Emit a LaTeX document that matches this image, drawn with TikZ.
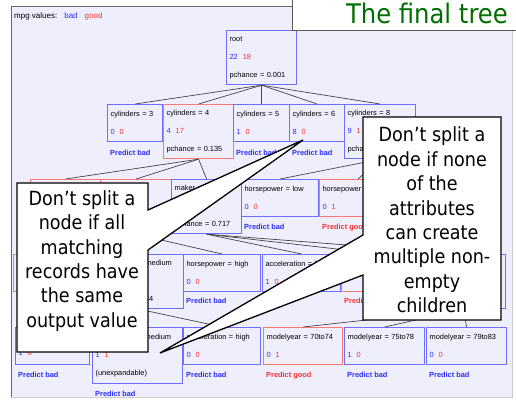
\documentclass[tikz,border=0pt]{standalone}
\usepackage{fontspec}
\setmainfont{Liberation Sans}
\newfontfamily\calloutfont{DejaVu Sans Condensed}
\usetikzlibrary{positioning}

\definecolor{panel}{RGB}{238,238,253}
\definecolor{boxblue}{RGB}{110,110,255}
\definecolor{boxred}{RGB}{255,120,120}
\definecolor{badc}{RGB}{45,45,255}
\definecolor{goodc}{RGB}{255,45,45}
\definecolor{titlegreen}{RGB}{0,110,0}
\definecolor{linkgray}{RGB}{70,70,70}

\newcommand{\cnt}[2]{\textcolor{badc}{#1}\hspace{5pt}\textcolor{goodc}{#2}}
\newcommand{\treefont}{\fontsize{7.4}{18}\selectfont}

\tikzset{
  tbox/.style={draw, line width=1.2pt, fill=panel, font=\treefont, align=left,
    anchor=north west, inner xsep=3pt, inner ysep=0pt, minimum height=37pt,
    text width=#1},
  badbox/.style={tbox=#1, draw=boxblue},
  goodbox/.style={tbox=#1, draw=boxred},
  splitbox/.style={minimum height=54pt},
  pred/.style={font=\treefont\bfseries, anchor=west, inner sep=0pt},
  link/.style={draw=linkgray, line width=0.7pt},
  callout/.style={draw=black, fill=white, line width=1.3pt, line join=miter},
  callouttext/.style={font=\calloutfont\fontsize{19.5}{24.4}\selectfont, align=center, inner sep=0pt}
}

\begin{document}
\begin{tikzpicture}[x=1pt, y=-1pt]
    \useasboundingbox (0,0) rectangle (516,399);
    % panel of the applet
    \fill[panel] (11,6) rectangle (512,397);
    \draw[gray!80!black, line width=1pt] (11,397) -- (11,6) -- (512,6);
    \draw[gray!40, line width=0.8pt] (512,6) -- (512,397) -- (11,397);
    \node[anchor=west, inner sep=0pt, font=\fontsize{8}{9}\selectfont] (legend) at (14,16)
        {mpg values:\hspace{7pt}\textcolor{badc}{bad}\hspace{7pt}\textcolor{goodc}{good}};

    % root and first split
    \node[badbox=64pt, splitbox] (root) at (226,30) {root\\ \cnt{22}{18}\\ pchance = 0.001};
    \node[badbox=49pt] (c3) at (107,104) {cylinders = 3\\ \cnt{0}{0}};
    \node[goodbox=64pt, splitbox] (c4) at (163,104) {cylinders = 4\\ \cnt{4}{17}\\ pchance = 0.135};
    \node[badbox=50pt] (c5) at (233,104) {cylinders = 5\\ \cnt{1}{0}};
    \node[badbox=49pt] (c6) at (289,104) {cylinders = 6\\ \cnt{8}{0}};
    \node[badbox=65pt, splitbox] (c8) at (344,104) {cylinders = 8\\ \cnt{9}{1}\\ pchance};
    \node[pred, text=badc] (pc3) at ([xshift=3pt, yshift=-11pt]c3.south west) {Predict bad};
    \node[pred, text=badc] (pc5) at ([xshift=3pt, yshift=-11pt]c5.south west) {Predict bad};
    \node[pred, text=badc] (pc6) at ([xshift=3pt, yshift=-11pt]c6.south west) {Predict bad};

    % second level
    \node[goodbox=64pt] (mam) at (30,179) {};
    \node[goodbox=65pt, splitbox] (mas) at (100,179) {};
    \node[badbox=64pt, splitbox] (meu) at (171,179) {maker = europe\\ \mbox{}\\ pchance = 0.717};
    \node[badbox=71pt] (hlo) at (241,179) {horsepower = low\\ \cnt{0}{0}};
    \node[goodbox=71pt] (hme) at (319,179) {horsepower~=~medium\\ \cnt{0}{1}};
    \node[pred, text=badc] (phlo) at ([xshift=3pt, yshift=-10pt]hlo.south west) {Predict bad};
    \node[pred, text=goodc] (phme) at ([xshift=3pt, yshift=-10pt]hme.south west) {Predict good};

    % third level
    \node[goodbox=71pt] (h2lo) at (13,254) {};
    \node[badbox=83pt, splitbox] (h2me) at (94,254) {horsepower = medium\\ \mbox{}\\ pchance = 0.444};
    \node[badbox=71pt] (h2hi) at (183,254) {horsepower = high\\ \cnt{0}{0}};
    \node[badbox=72pt] (alo) at (262,254) {acceleration = low\\ \cnt{1}{0}};
    \node[goodbox=73pt] (ame) at (341,254) {};
    \node[badbox=78pt, splitbox] (ahi) at (421,254) {};
    \node[pred, text=badc] (ph2hi) at ([xshift=3pt, yshift=-9pt]h2hi.south west) {Predict bad};
    \node[pred, text=goodc] (pame) at ([xshift=3pt, yshift=-9pt]ame.south west) {Predict good};

    % fourth level
    \node[badbox=68pt] (a4lo) at (15,327) {\mbox{}\\ \cnt{1}{0}};
    \node[badbox=84pt, minimum height=56pt] (a4me) at (92,327) {acceleration = medium\\ \cnt{1}{1}\\ (unexpandable)};
    \node[badbox=71pt] (a4hi) at (183,327) {acceleration = high\\ \cnt{0}{0}};
    \node[goodbox=73pt] (my1) at (263,327) {modelyear = 70to74\\ \cnt{0}{1}};
    \node[badbox=74pt] (my2) at (344,327) {modelyear = 75to78\\ \cnt{1}{0}};
    \node[badbox=74pt] (my3) at (426,327) {modelyear = 79to83\\ \cnt{0}{0}};
    \node[pred, text=badc] (pa4lo) at ([xshift=3pt, yshift=-10pt]a4lo.south west) {Predict bad};
    \node[pred, text=badc] (pa4me) at ([xshift=3pt, yshift=-10pt]a4me.south west) {Predict bad};
    \node[pred, text=badc] (pa4hi) at ([xshift=3pt, yshift=-10pt]a4hi.south west) {Predict bad};
    \node[pred, text=goodc] (pmy1) at ([xshift=3pt, yshift=-10pt]my1.south west) {Predict good};
    \node[pred, text=badc] (pmy2) at ([xshift=3pt, yshift=-10pt]my2.south west) {Predict bad};
    \node[pred, text=badc] (pmy3) at ([xshift=3pt, yshift=-10pt]my3.south west) {Predict bad};

    % branches
    \foreach \kid in {c3,c4,c5,c6,c8} \path[link] (root.south) -- (\kid.north);
    \foreach \kid in {mam,mas,meu} \path[link] (c4.south) -- (\kid.north);
    \foreach \kid in {hlo,hme} \path[link] (c8.south) -- (\kid.north);
    \foreach \kid in {h2lo,h2me,h2hi} \path[link] (mas.south) -- (\kid.north);
    \foreach \kid in {alo,ame,ahi} \path[link] (meu.south) -- (\kid.north);
    \foreach \kid in {a4lo,a4me,a4hi} \path[link] (h2me.south) -- (\kid.north);
    \foreach \kid in {my1,my2,my3} \path[link] (ahi.south) -- (\kid.north);

    % title
    \fill[white] (292,0) rectangle (516,30);
    \draw[gray!70!black, line width=0.8pt] (292,0) -- (292,30) -- (516,30);
    \node[anchor=base east, inner sep=0pt, text=titlegreen,
          font=\calloutfont\fontsize{27}{30}\selectfont] (title) at (508,23) {The final tree};

    % callouts
    \draw[callout] (17,183) -- (148,183) -- (148,210) -- (303,140) -- (148,250)
        -- (148,352) -- (17,352) -- cycle;
    \node[callouttext] (leftnote) at (82,261)
        {Don’t split a\\ node if all\\ matching\\ records have\\ the same\\ output value};
    \draw[callout] (363,117) -- (501,117) -- (501,320) -- (363,320) -- (363,275)
        -- (160,353) -- (363,235) -- cycle;
    \node[callouttext] (rightnote) at (432,220)
        {Don’t split a\\ node if none\\ of the\\ attributes\\ can create\\ multiple non-\\ empty\\ children};
\end{tikzpicture}
\end{document}
